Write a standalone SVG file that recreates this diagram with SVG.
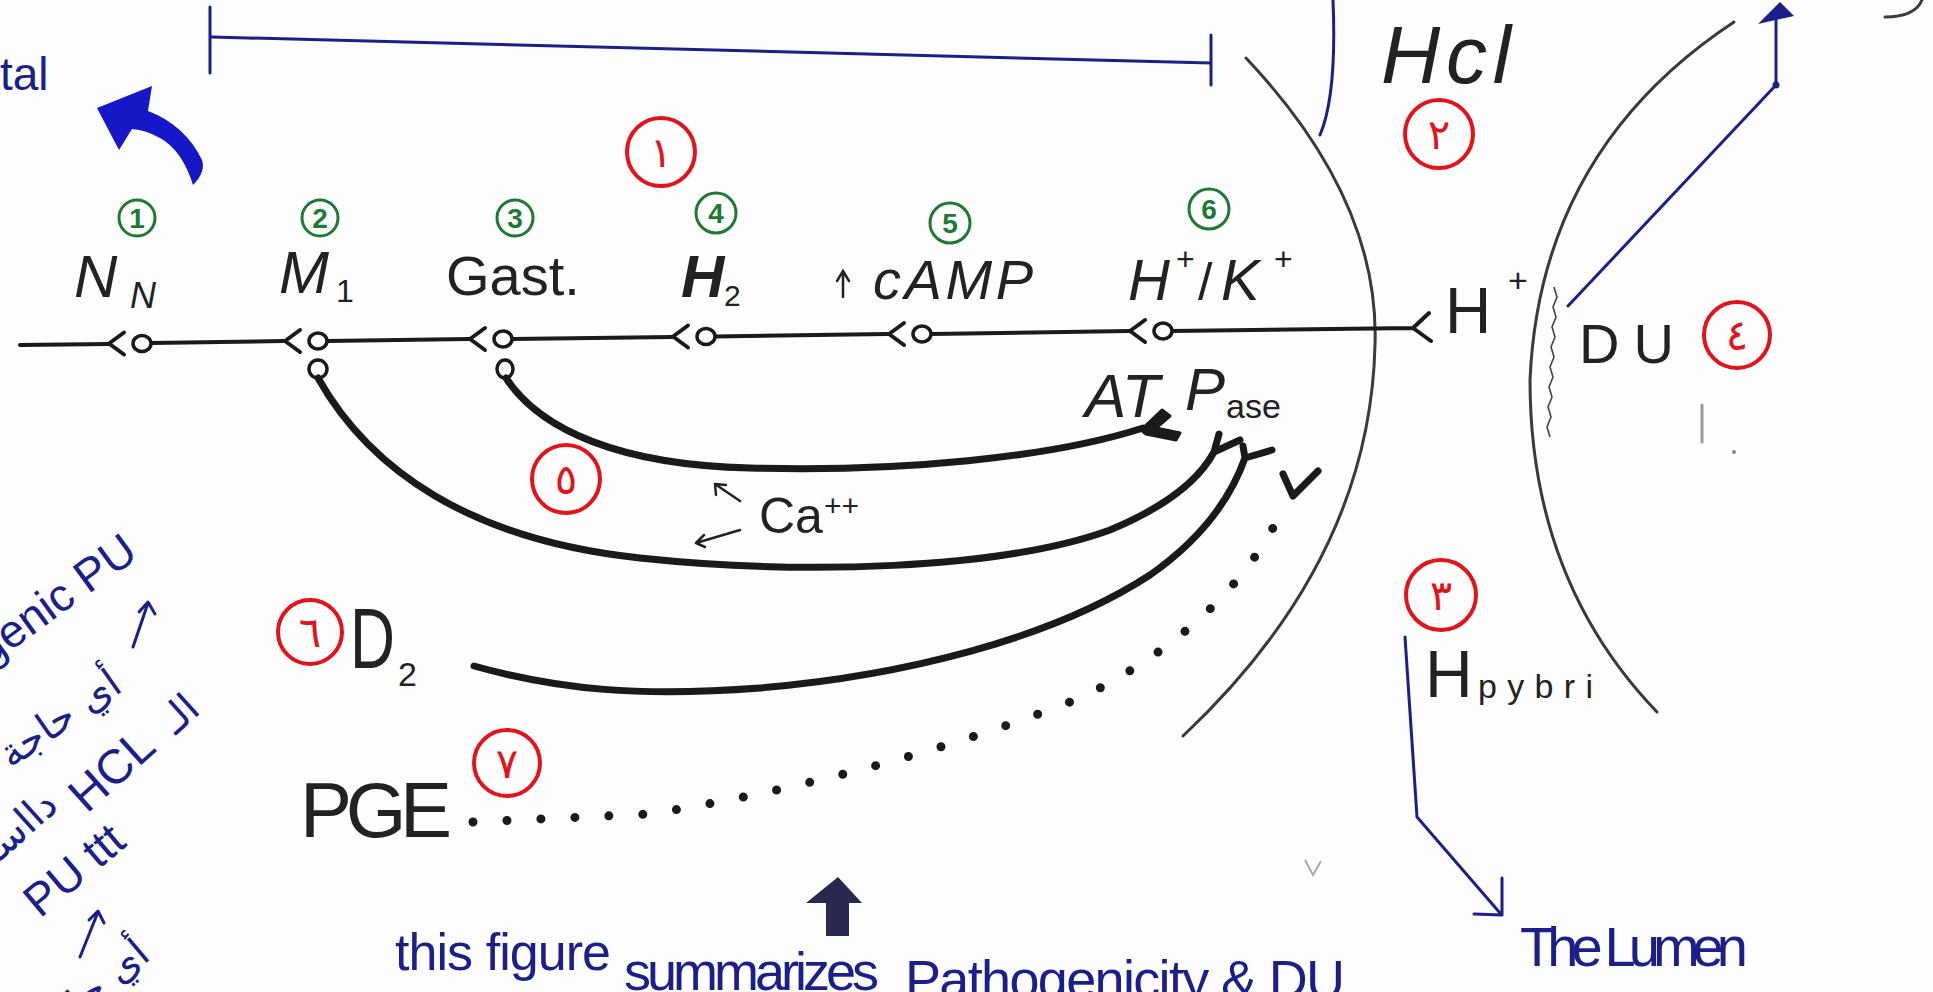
<svg xmlns="http://www.w3.org/2000/svg" width="1933" height="992" viewBox="0 0 1933 992">
<defs>
<style>
.ink{fill:#222;font-family:"Liberation Sans",Arial,sans-serif}
.it{font-style:italic}
.gc{fill:#fff;stroke:#1d7a34;stroke-width:3}
.gn{fill:#1d7a34;font-family:"Liberation Sans",sans-serif;font-size:28px;font-weight:bold;text-anchor:middle}
.rc{fill:none;stroke:#e3131b;stroke-width:4}
.rn{fill:#e3131b;font-family:"DejaVu Sans",sans-serif;font-size:42px;text-anchor:middle}
.axon{fill:none;stroke:#1a1a1a;stroke-width:4;stroke-linecap:round;stroke-linejoin:round}
.knob{fill:#fff;stroke:#1a1a1a;stroke-width:3.5}
.memb{fill:none;stroke:#3a3a3a;stroke-width:3;stroke-linecap:round}
.route{fill:none;stroke:#1a1a1a;stroke-width:7;stroke-linecap:round;stroke-linejoin:round}
.dots{fill:none;stroke:#1a1a1a;stroke-width:9;stroke-linecap:round;stroke-dasharray:0 34}
.pen{fill:none;stroke:#1b1f8a;stroke-width:3;stroke-linecap:round;stroke-linejoin:round}
.note{fill:#1b1f8a;font-family:"Liberation Sans","DejaVu Sans",sans-serif}
.ar{fill:#1b1f8a;font-family:"DejaVu Sans",sans-serif}
.faint{fill:none;stroke:#9a9a9a;stroke-width:3;stroke-linecap:round}
</style>
<g id="syn">
<path d="M-18,-11 L-33,0 L-18,11" fill="none" stroke="#1a1a1a" stroke-width="4" stroke-linecap="round" stroke-linejoin="round"/>
<ellipse rx="9" ry="8" fill="#fff" stroke="#1a1a1a" stroke-width="3.5"/>
</g>
</defs>

<rect width="1933" height="992" fill="#fdfdfd"/>

<!-- cell membranes -->
<g id="membranes">
<path class="memb" d="M1246,58 Q1380,200 1375,345 Q1370,560 1183,736"/>
<path class="memb" d="M1734,22 Q1540,150 1530,380 Q1530,580 1657,712"/>
<path d="M1554,287 l3,10 l-4,10 l3,10 l-4,10 l3,10 l-4,10 l3,10 l-4,10 l3,10 l-4,10 l3,10 l-4,10 l3,10 l-4,10 l3,10" fill="none" stroke="#444" stroke-width="1.6"/>
<path class="memb" d="M1885,17 Q1915,17 1922,0"/>
</g>

<!-- connectors -->
<g id="connectors">
<!-- receptor chain -->
<path class="axon" d="M20,345 L108,344 M151,343 L284,341 M327,341 L469,339 M512,339 L672,337 M715,336.5 L888,334 M931,334 L1129,331 M1172,331 L1413,328 M1429,313 L1413,328 L1431,341"/>
<use href="#syn" x="142" y="343.5"/>
<use href="#syn" x="318" y="341"/>
<use href="#syn" x="503" y="339"/>
<use href="#syn" x="706" y="336.5"/>
<use href="#syn" x="922" y="334"/>
<use href="#syn" x="1163" y="331"/>
<ellipse class="knob" cx="318" cy="369" rx="9" ry="9"/>
<ellipse class="knob" cx="505" cy="369" rx="8" ry="9"/>

<!-- pathways to the pump -->
<path class="route" d="M506,378 C540,430 620,465 750,468 C900,472 1050,458 1143,428"/>
<path d="M1141,430 L1162,410 L1170,416 L1156,428 L1180,433 L1176,440 L1146,434 Z" fill="#1a1a1a" stroke="#1a1a1a" stroke-width="3" stroke-linejoin="round"/>
<path class="route" d="M318,378 C370,470 470,540 640,558 C800,575 1000,570 1110,530 C1170,505 1200,478 1214,452 M1219,434 L1214,452 L1240,440"/>
<path class="route" d="M474,666 C560,690 640,697 760,688 C900,676 1050,640 1150,575 C1200,540 1230,500 1245,458 M1243,446 L1245,458 L1272,450"/>
<path class="dots" d="M473,822 L650,814 C800,790 950,750 1080,698 C1180,650 1250,580 1282,510"/>
<path class="route" d="M1283,474 L1293,496 L1318,471"/>

<!-- Ca++ arrows -->
<path fill="none" stroke="#222" stroke-width="2.5" stroke-linecap="round" d="M740,501 L715,484 M715,484 L716,495 M715,484 L726,485 M740,530 L696,543 M696,543 L704,535 M696,543 L705,547"/>

<!-- blue pen marks -->
<path class="pen" d="M210,7 L210,73 M212,37 L1211,63 M1211,35 L1211,85"/>
<path class="pen" d="M1333,0 Q1337,95 1320,135"/>
<path class="pen" d="M1568,306 L1776,85 L1776,20"/>
<polygon points="1780,2 1758,24 1794,16" fill="#1b1f8a"/>
<circle cx="1776" cy="85" r="3.5" fill="#1b1f8a"/>
<path class="pen" d="M1405,637 L1417,817 L1500,913 M1502,878 L1502,915 L1474,914"/>
<path d="M97,108 L152,86 L148,111 Q185,125 202,160 Q206,172 193,185 Q182,150 160,138 Q146,130 132,129 L119,150 Z" fill="#1717c8"/>
<polygon points="838,877 806,903 826,903 826,936 849,936 849,903 862,903" fill="#2a2850"/>
<path class="pen" d="M133,647 L148,603 M139,612 L148,602 L155,614"/>
<path class="pen" d="M80,957 L98,912 M89,920 L98,911 L104,923"/>

<!-- faint marks -->
<path class="faint" d="M1702,405 L1702,442"/>
<circle cx="1734" cy="452" r="2" fill="#888"/>
<path fill="none" stroke="#aaa" stroke-width="2" d="M1305,860 L1313,875 L1321,861"/>
</g>

<!-- receptors along the chain -->
<g id="node-nn">
<circle class="gc" cx="137" cy="218" r="18"/><text class="gn" x="137" y="228">1</text>
<text class="ink it" x="74" y="297" font-size="60">N</text>
<text class="ink it" x="130" y="308" font-size="36">N</text>
</g>
<g id="node-m1">
<circle class="gc" cx="320" cy="218" r="18"/><text class="gn" x="320" y="228">2</text>
<text class="ink it" x="279" y="293" font-size="60">M</text>
<text class="ink" x="336" y="302" font-size="32">1</text>
</g>
<g id="node-gast">
<circle class="gc" cx="515" cy="218" r="18"/><text class="gn" x="515" y="228">3</text>
<text class="ink" x="446" y="295" font-size="56">Gast.</text>
</g>
<g id="node-h2">
<circle class="gc" cx="716" cy="213" r="20"/><text class="gn" x="716" y="223">4</text>
<text class="ink it" x="681" y="297" font-size="60" font-weight="bold">H</text>
<text class="ink" x="724" y="306" font-size="30">2</text>
</g>
<g id="node-camp">
<circle class="gc" cx="950" cy="223" r="20"/><text class="gn" x="950" y="233">5</text>
<path fill="none" stroke="#222" stroke-width="2.5" stroke-linecap="round" d="M843,297 L843,272 M837,281 L843,271 L849,281"/>
<text class="ink it" x="873" y="299" font-size="56" textLength="160">cAMP</text>
</g>
<g id="node-hk">
<circle class="gc" cx="1209" cy="209" r="20"/><text class="gn" x="1209" y="219">6</text>
<text class="ink it" x="1128" y="300" font-size="58">H</text>
<text class="ink" x="1176" y="270" font-size="32">+</text>
<text class="ink" x="1198" y="300" font-size="52">/</text>
<text class="ink it" x="1221" y="300" font-size="58">K</text>
<text class="ink" x="1274" y="270" font-size="32">+</text>
</g>
<g id="node-atpase">
<text class="ink it" x="1085" y="417" font-size="62">AT</text>
<text class="ink it" x="1185" y="410" font-size="60">P</text>
<text class="ink" x="1226" y="418" font-size="34">ase</text>
</g>
<g id="node-hplus">
<text class="ink" x="1445" y="333" font-size="64">H</text>
<text class="ink" x="1508" y="292" font-size="34">+</text>
</g>
<g id="node-hcl">
<text class="ink it" x="1381" y="83" font-size="82" textLength="130" fill="#333">Hcl</text>
<circle class="rc" cx="1439" cy="134" r="34"/><text class="rn" x="1439" y="149">٢</text>
</g>
<g id="node-du">
<text class="ink" x="1579" y="363" font-size="56" letter-spacing="14">DU</text>
<circle class="rc" cx="1737" cy="335" r="33"/><text class="rn" x="1737" y="350">٤</text>
</g>
<g id="node-ca">
<text class="ink" x="759" y="533" font-size="50">Ca</text>
<text class="ink" x="824" y="516" font-size="30">++</text>
<circle class="rc" cx="566" cy="479" r="34"/><text class="rn" x="566" y="494">٥</text>
</g>
<g id="node-d2">
<circle class="rc" cx="310" cy="632" r="32"/><text class="rn" x="310" y="647">٦</text>
<text class="ink" x="350" y="668" font-size="86" textLength="45" lengthAdjust="spacingAndGlyphs">D</text>
<text class="ink" x="398" y="686" font-size="34">2</text>
</g>
<g id="node-pge">
<text class="ink" x="300" y="837" font-size="78" textLength="152">PGE</text>
<circle class="rc" cx="507" cy="763" r="33"/><text class="rn" x="507" y="778">٧</text>
</g>
<g id="node-hpylori">
<circle class="rc" cx="1441" cy="595" r="35"/><text class="rn" x="1441" y="610">٣</text>
<text class="ink" x="1425" y="697" font-size="66" fill="#333">H</text>
<text class="ink" x="1478" y="698" font-size="34" textLength="115" fill="#444">pybri</text>
</g>
<g id="node-one">
<circle class="rc" cx="661" cy="152" r="34"/><text class="rn" x="661" y="167">١</text>
</g>

<!-- handwritten notes -->
<g id="notes">
<text class="note" x="0" y="90" font-size="46">tal</text>
<text class="note" x="1520" y="966" font-size="56" textLength="228">The Lumen</text>
<text class="note" x="395" y="970" font-size="52" textLength="216">this figure</text>
<text class="note" x="624" y="990" font-size="54" textLength="255">summarizes</text>
<text class="note" x="905" y="998" font-size="54" textLength="440">Pathogenicity &amp; DU</text>
<text class="note" font-size="46" text-anchor="end" transform="translate(140,557) rotate(-36)">genic PU</text>
<text class="ar" font-size="40" text-anchor="end" transform="translate(124,690) rotate(-35)">أي حاجة</text>
<text class="ar" font-size="40" text-anchor="end" transform="translate(202,712) rotate(-42)">الـ</text>
<text class="note" font-size="48" text-anchor="end" transform="translate(158,750) rotate(-42)">HCL</text>
<text class="ar" font-size="40" text-anchor="end" transform="translate(60,808) rotate(-42)">دااسم</text>
<text class="note" font-size="46" text-anchor="end" transform="translate(128,845) rotate(-40)">PU ttt</text>
<text class="ar" font-size="40" text-anchor="end" transform="translate(152,958) rotate(-40)">أي حاجة</text>
</g>
</svg>
